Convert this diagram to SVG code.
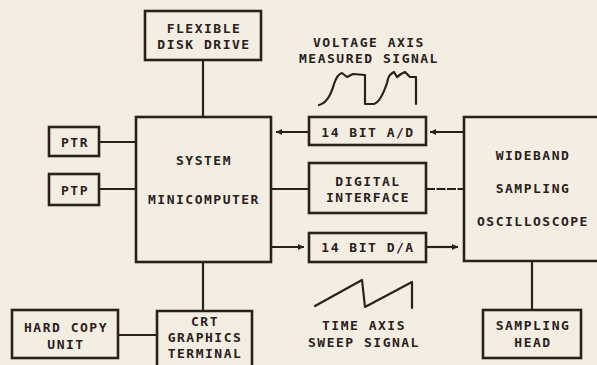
<svg xmlns="http://www.w3.org/2000/svg" width="597" height="365" viewBox="0 0 597 365">
  <defs>
    <marker id="arr" viewBox="0 0 10 10" refX="10" refY="5" markerWidth="9" markerHeight="6" markerUnits="userSpaceOnUse" orient="auto">
      <path d="M0,0 L10,5 L0,10 Z" fill="#2a201c"/>
    </marker>
    <style>
      .box { fill: none; stroke: #2a201c; stroke-width: 2.6; }
      .ln { fill: none; stroke: #2a201c; stroke-width: 2.2; }
      .wave { fill: none; stroke: #2a201c; stroke-width: 2.2; stroke-linejoin: round; stroke-linecap: round; }
      text { font-family: "DejaVu Sans Mono", "Liberation Mono", monospace; font-size: 13px; font-weight: bold; fill: #2a201c; text-anchor: middle; letter-spacing: 1.5px; }
    </style>
  </defs>
  <rect x="0" y="0" width="597" height="365" fill="#f4eee2"/>

  <g id="connectors">
    <line class="ln" x1="203" y1="60" x2="203" y2="117"/>
    <line class="ln" x1="99" y1="142" x2="136" y2="142"/>
    <line class="ln" x1="99" y1="189" x2="136" y2="189"/>
    <line class="ln" x1="203" y1="262" x2="203" y2="311"/>
    <line class="ln" x1="118" y1="335" x2="157" y2="335"/>
    <line class="ln" x1="309" y1="132" x2="276" y2="132" marker-end="url(#arr)"/>
    <line class="ln" x1="464" y1="132" x2="430" y2="132" marker-end="url(#arr)"/>
    <line class="ln" x1="271" y1="189" x2="309" y2="189"/>
    <line class="ln" x1="426" y1="189" x2="464" y2="189" stroke-dasharray="9 1.5"/>
    <line class="ln" x1="271" y1="247" x2="304" y2="247" marker-end="url(#arr)"/>
    <line class="ln" x1="426" y1="247" x2="458" y2="247" marker-end="url(#arr)"/>
    <line class="ln" x1="532" y1="261" x2="532" y2="310"/>
  </g>

  <g id="flexible-disk-drive">
    <rect class="box" x="145" y="11" width="116" height="49"/>
    <text x="204" y="33">FLEXIBLE</text>
    <text x="204" y="49">DISK DRIVE</text>
  </g>

  <g id="ptr">
    <rect class="box" x="49" y="127" width="50" height="29"/>
    <text x="75" y="147">PTR</text>
  </g>

  <g id="ptp">
    <rect class="box" x="49" y="174" width="50" height="31"/>
    <text x="75" y="195">PTP</text>
  </g>

  <g id="system-minicomputer">
    <rect class="box" x="136" y="117" width="135" height="145"/>
    <text x="204" y="165">SYSTEM</text>
    <text x="204" y="204">MINICOMPUTER</text>
  </g>

  <g id="hard-copy-unit">
    <rect class="box" x="12" y="310" width="106" height="48"/>
    <text x="66" y="332">HARD COPY</text>
    <text x="66" y="349">UNIT</text>
  </g>

  <g id="crt-graphics-terminal">
    <path class="box" d="M157,368 L157,311 L252,311 L252,368"/>
    <text x="205" y="326">CRT</text>
    <text x="205" y="342">GRAPHICS</text>
    <text x="205" y="358">TERMINAL</text>
  </g>

  <g id="ad-converter">
    <rect class="box" x="309" y="117" width="117" height="28"/>
    <text x="368" y="137">14 BIT A/D</text>
  </g>

  <g id="digital-interface">
    <rect class="box" x="309" y="163" width="117" height="50"/>
    <text x="368" y="186">DIGITAL</text>
    <text x="368" y="202">INTERFACE</text>
  </g>

  <g id="da-converter">
    <rect class="box" x="309" y="233" width="117" height="29"/>
    <text x="368" y="252">14 BIT D/A</text>
  </g>

  <g id="wideband-sampling-oscilloscope">
    <path class="box" d="M600,117 L464,117 L464,261 L600,261"/>
    <text x="533" y="160">WIDEBAND</text>
    <text x="533" y="193">SAMPLING</text>
    <text x="533" y="226">OSCILLOSCOPE</text>
  </g>

  <g id="sampling-head">
    <rect class="box" x="483" y="310" width="98" height="48"/>
    <text x="533" y="330">SAMPLING</text>
    <text x="533" y="347">HEAD</text>
  </g>

  <g id="voltage-axis-signal">
    <text x="369" y="47">VOLTAGE AXIS</text>
    <text x="369" y="63">MEASURED SIGNAL</text>
    <path class="wave" d="M319,105 C327,103 331,95 334,84 C336,78 338,74 342,73 L347,77 L353,74 L365,75 L365,104 L374,104 C380,102 384,92 387,83 C388,78 389,75 391,74 L394,72 L397,77 L401,74 L405,72 L410,77 L416,77 L416,104"/>
  </g>

  <g id="time-axis-signal">
    <path class="wave" d="M315,306 L362,280 L365,307 L412,282 L412,308"/>
    <text x="364" y="330">TIME AXIS</text>
    <text x="364" y="347">SWEEP SIGNAL</text>
  </g>
</svg>
